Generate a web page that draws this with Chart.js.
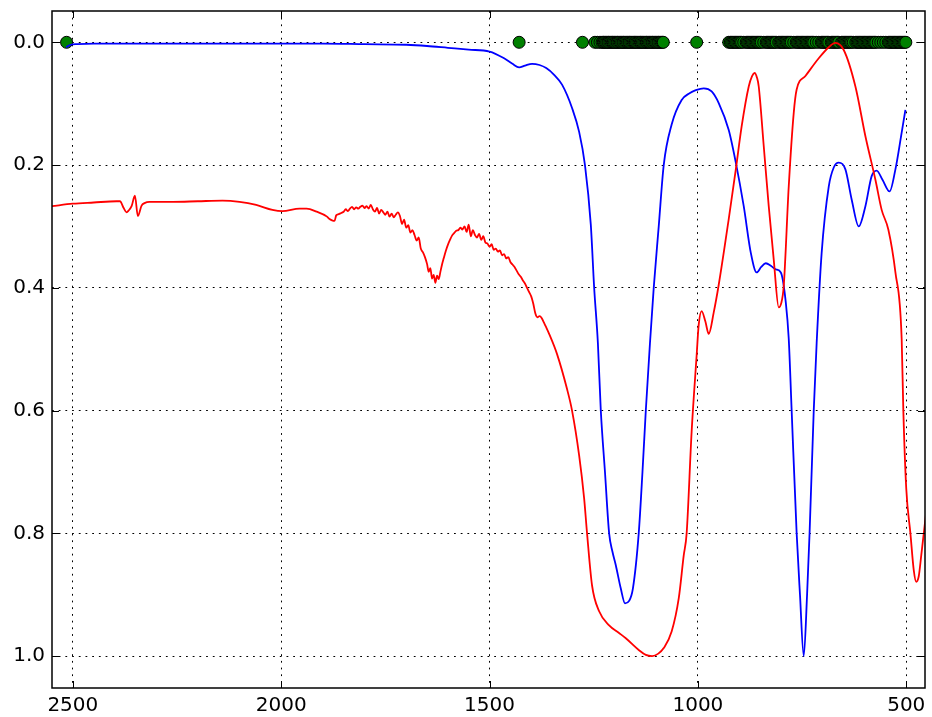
<!DOCTYPE html>
<html>
<head>
<meta charset="utf-8">
<script src="https://cdn.jsdelivr.net/npm/chart.js@4/dist/chart.umd.min.js"></script>
<style>
  html, body { margin: 0; padding: 0; background: #fff; }
  canvas { display: block; }
</style>
</head>
<body>
<canvas id="spektrum" width="932" height="717"></canvas>
<script>
// axis ticks
const xTicks = [2500, 2000, 1500, 1000, 500];
const yTicks = [0.0, 0.2, 0.4, 0.6, 0.8, 1.0];

// blue spectrum (wavenumber / normalised absorbance)
const blueX = [2516, 2505, 2490, 2450, 2300, 2100, 1900, 1800, 1700, 1650, 1600, 1550, 1500, 1465, 1445, 1429, 1415, 1398, 1380, 1364,
  1345, 1326, 1302, 1285, 1271, 1257, 1249, 1240, 1233, 1223, 1213, 1205, 1197, 1185, 1175, 1165, 1156, 1142, 1133, 1125,
  1115, 1106, 1094, 1082, 1063, 1039, 1020, 1005, 986, 967, 950, 926, 909, 890, 873, 859, 848, 837, 825, 813,
  801, 789, 782, 775, 763, 755, 746, 738, 732, 722, 715, 703, 686, 674, 662, 646, 631, 614, 598, 583,
  571, 557, 540, 526, 511, 502];
const blueY = [0.008, 0.004, 0.003, 0.002, 0.002, 0.002, 0.002, 0.003, 0.004, 0.006, 0.009, 0.012, 0.015, 0.026, 0.035, 0.041, 0.038, 0.035, 0.037, 0.042,
  0.053, 0.069, 0.107, 0.146, 0.2, 0.297, 0.399, 0.49, 0.6, 0.7, 0.8, 0.83, 0.852, 0.89, 0.914, 0.91, 0.89, 0.8, 0.7, 0.6,
  0.49, 0.4, 0.3, 0.2, 0.134, 0.094, 0.083, 0.078, 0.075, 0.08, 0.099, 0.143, 0.196, 0.267, 0.343, 0.375, 0.366, 0.36, 0.364, 0.37,
  0.375, 0.424, 0.483, 0.6, 0.8, 0.9, 1.0, 0.9, 0.8, 0.6, 0.49, 0.343, 0.235, 0.204, 0.196, 0.207, 0.256, 0.3, 0.267, 0.218,
  0.209, 0.224, 0.243, 0.207, 0.147, 0.11];

// red spectrum
const redX = [2550, 2500, 2450, 2395, 2387, 2378, 2371, 2366, 2359, 2351, 2344, 2335, 2328, 2316, 2260, 2200, 2141, 2100, 2060, 2021,
  1997, 1956, 1939, 1915, 1890, 1884, 1878, 1872, 1868, 1862, 1856, 1850, 1845, 1840, 1835, 1830, 1825, 1820, 1815, 1810,
  1805, 1800, 1795, 1790, 1785, 1780, 1775, 1770, 1765, 1760, 1755, 1750, 1745, 1740, 1735, 1730, 1725, 1720, 1715, 1710,
  1705, 1700, 1695, 1690, 1685, 1680, 1675, 1670, 1665, 1660, 1655, 1650, 1646, 1642, 1638, 1634, 1630, 1626, 1622, 1618,
  1614, 1610, 1605, 1600, 1595, 1590, 1585, 1580, 1575, 1570, 1565, 1560, 1555, 1550, 1545, 1540, 1535, 1530, 1525, 1520,
  1515, 1510, 1505, 1500, 1495, 1490, 1485, 1480, 1475, 1470, 1465, 1460, 1455, 1450, 1445, 1440, 1435, 1430, 1425, 1420,
  1415, 1410, 1405, 1400, 1395, 1390, 1385, 1380, 1375, 1370, 1365, 1357, 1338, 1314, 1302, 1285, 1273, 1266, 1254, 1237,
  1213, 1190, 1173, 1142, 1125, 1110, 1095, 1082, 1063, 1046, 1034, 1027, 1015, 1003, 998, 991, 982, 974, 962, 950,
  926, 909, 895, 878, 870, 864, 858, 854, 842, 830, 818, 806, 800, 794, 782, 770, 763, 742, 710, 686,
  670, 650, 622, 598, 574, 559, 543, 526, 511, 507, 500, 490, 482, 476, 470, 464, 452];
const redY = [0.267, 0.263, 0.261, 0.259, 0.259, 0.27, 0.277, 0.274, 0.267, 0.25, 0.283, 0.266, 0.262, 0.26, 0.26, 0.259, 0.258, 0.26, 0.265, 0.273,
  0.275, 0.271, 0.271, 0.276, 0.284, 0.288, 0.29, 0.291, 0.282, 0.28, 0.278, 0.276, 0.272, 0.275, 0.271, 0.268, 0.272, 0.269, 0.271, 0.268,
  0.266, 0.27, 0.267, 0.271, 0.265, 0.272, 0.276, 0.27, 0.279, 0.273, 0.277, 0.281, 0.276, 0.284, 0.279, 0.285, 0.281, 0.277, 0.283, 0.296,
  0.289, 0.302, 0.298, 0.31, 0.306, 0.314, 0.323, 0.318, 0.336, 0.342, 0.35, 0.361, 0.374, 0.368, 0.385, 0.379, 0.392, 0.38, 0.386, 0.374,
  0.362, 0.352, 0.34, 0.33, 0.322, 0.315, 0.311, 0.307, 0.306, 0.302, 0.305, 0.3, 0.309, 0.297, 0.316, 0.306, 0.314, 0.318, 0.312, 0.322,
  0.316, 0.326, 0.328, 0.333, 0.329, 0.338, 0.336, 0.341, 0.339, 0.347, 0.345, 0.352, 0.35, 0.358, 0.362, 0.366, 0.372, 0.378, 0.382, 0.388,
  0.393, 0.4, 0.407, 0.414, 0.426, 0.442, 0.448, 0.446, 0.449, 0.456, 0.463, 0.475, 0.508, 0.565, 0.6, 0.673, 0.743, 0.8, 0.885, 0.927,
  0.95, 0.962, 0.971, 0.99, 0.998, 1.0, 0.996, 0.987, 0.96, 0.906, 0.836, 0.8, 0.634, 0.51, 0.46, 0.438, 0.455, 0.475, 0.44, 0.395,
  0.288, 0.207, 0.137, 0.072, 0.055, 0.05, 0.058, 0.072, 0.169, 0.267, 0.354, 0.432, 0.425, 0.397, 0.235, 0.115, 0.077, 0.055, 0.026, 0.008,
  0.001, 0.0125, 0.072, 0.153, 0.224, 0.273, 0.305, 0.375, 0.483, 0.6, 0.727, 0.8, 0.86, 0.879, 0.87, 0.836, 0.765];

// peak positions, marked on the zero line
const peakX = [2515, 1429, 1277, 1247, 1241, 1235, 1230, 1227, 1225, 1222, 1219, 1216, 1214, 1211, 1208, 1205, 1203, 1200, 1197, 1194,
  1192, 1189, 1186, 1183, 1180, 1178, 1175, 1172, 1169, 1166, 1164, 1161, 1158, 1155, 1152, 1150, 1147, 1144, 1141, 1138,
  1136, 1133, 1130, 1127, 1124, 1122, 1119, 1116, 1113, 1110, 1108, 1105, 1102, 1099, 1096, 1094, 1091, 1088, 1085, 1083,
  1003,
  926, 922, 919, 916, 913, 910, 907, 904, 901, 898, 895, 890, 884, 881, 878, 875, 872, 869, 866, 863,
  860, 857, 854, 851, 848, 842, 836, 833, 830, 827, 824, 821, 818, 815, 812, 806, 803, 800, 797, 794,
  791, 788, 785, 782, 779, 776, 770, 764, 761, 758, 755, 752, 749, 746, 743, 740, 737, 734, 731, 728,
  725, 722, 716, 710, 704, 701, 698, 695, 692, 689, 686, 680, 677, 674, 671, 668, 665, 662, 655, 652,
  649, 646, 643, 640, 637, 634, 631, 627, 621, 618, 615, 612, 609, 606, 603, 600, 597, 594, 591, 588,
  585, 582, 579, 576, 573, 567, 561, 555, 549, 543, 540, 537, 534, 531, 528, 525, 522, 519, 516, 513,
  510, 507, 504, 501];

const toPoints = (xs, ys) => xs.map((x, i) => ({ x, y: ys[i] }));

// frame round the plot area with inward tick marks on all four sides
const rahmen = {
  id: "rahmen",
  afterDraw(chart) {
    const { ctx, chartArea: a, scales } = chart;
    const len = 7;
    ctx.save();
    ctx.strokeStyle = "#000";
    ctx.lineWidth = 1;
    ctx.beginPath();
    xTicks.forEach(v => {
      const px = Math.round(scales.x.getPixelForValue(v)) + 0.5;
      ctx.moveTo(px, a.top); ctx.lineTo(px, a.top + len);
      ctx.moveTo(px, a.bottom); ctx.lineTo(px, a.bottom - len);
    });
    yTicks.forEach(v => {
      const py = Math.round(scales.y.getPixelForValue(v)) + 0.5;
      ctx.moveTo(a.left, py); ctx.lineTo(a.left + len, py);
      ctx.moveTo(a.right, py); ctx.lineTo(a.right - len, py);
    });
    ctx.stroke();
    ctx.lineWidth = 1.5;
    ctx.strokeRect(a.left, a.top, a.right - a.left, a.bottom - a.top);
    ctx.restore();
  }
};

const tickFont = { family: "'DejaVu Sans', sans-serif", size: 20 };
const dotted = [1.8, 4.9];

new Chart(document.getElementById("spektrum"), {
  type: "line",
  data: {
    datasets: [
      {
        label: "rot",
        data: toPoints(redX, redY),
        borderColor: "#ff0000",
        borderWidth: 1.8,
        pointRadius: 0,
        cubicInterpolationMode: "monotone",
        fill: false
      },
      {
        label: "blau",
        data: toPoints(blueX, blueY),
        borderColor: "#0000ff",
        borderWidth: 1.8,
        pointRadius: 0,
        cubicInterpolationMode: "monotone",
        fill: false
      },
      {
        label: "peaks",
        data: peakX.map(x => ({ x, y: 0 })),
        showLine: false,
        pointRadius: 6,
        pointBackgroundColor: "#008000",
        pointBorderColor: "#000",
        pointBorderWidth: 1
      }
    ]
  },
  options: {
    responsive: false,
    animation: false,
    events: [],
    layout: { padding: { top: 11, right: 5, left: 0, bottom: 0 } },
    scales: {
      x: {
        type: "linear",
        reverse: true,
        min: 455,
        max: 2550,
        afterBuildTicks: s => { s.ticks = xTicks.map(value => ({ value })); },
        afterFit: s => { s.height = 29; s.paddingLeft = 0; s.paddingRight = 0; },
        ticks: { font: tickFont, color: "#000", padding: 6, maxRotation: 0, callback: v => String(v) },
        grid: { color: "#000", lineWidth: 1, drawTicks: false, borderDash: dotted },
        border: { display: false, dash: dotted }
      },
      y: {
        type: "linear",
        reverse: true,
        min: -0.051,
        max: 1.052,
        afterBuildTicks: s => { s.ticks = yTicks.map(value => ({ value })); },
        afterFit: s => { s.width = 52; s.paddingTop = 0; s.paddingBottom = 0; },
        ticks: { font: tickFont, color: "#000", padding: 7, callback: v => v.toFixed(1) },
        grid: { color: "#000", lineWidth: 1, drawTicks: false, borderDash: dotted },
        border: { display: false, dash: dotted }
      }
    },
    plugins: {
      legend: { display: false },
      tooltip: { enabled: false }
    }
  },
  plugins: [rahmen]
});
</script>
</body>
</html>
